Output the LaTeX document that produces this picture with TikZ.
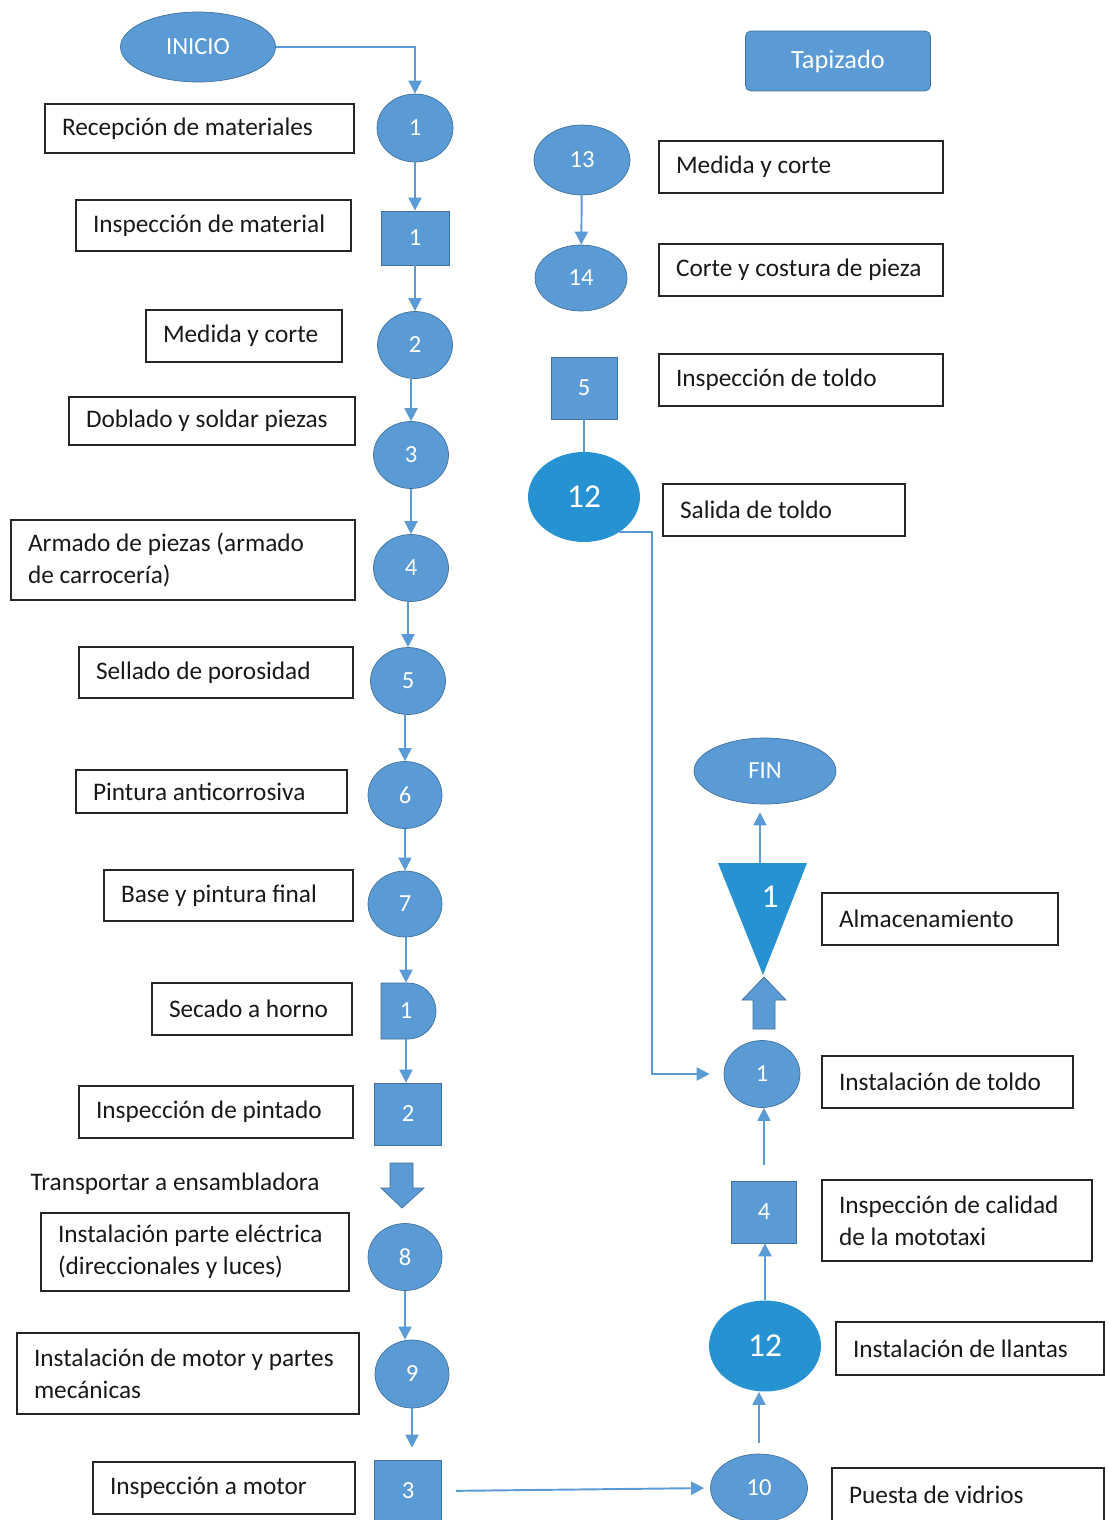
\documentclass[tikz,border=0pt]{standalone}
\usepackage{fontspec}
\setmainfont{Carlito}
\usetikzlibrary{positioning,shapes.geometric,arrows.meta}

\definecolor{opblue}{HTML}{5B9BD5}
\definecolor{opedge}{HTML}{41719C}
\definecolor{brightblue}{HTML}{2792D2}

\tikzset{
    op/.style={ellipse, fill=opblue, draw=opedge, line width=0.4pt, text=white,
        inner sep=0pt, font=\fontsize{14}{16}\selectfont},
    insp/.style={rectangle, fill=opblue, draw=opedge, line width=0.4pt, text=white,
        inner sep=0pt, font=\fontsize{14}{16}\selectfont},
    bigop/.style={ellipse, fill=brightblue, text=white, inner sep=0pt,
        minimum width=2.24cm, minimum height=1.8cm, font=\fontsize{19}{22}\selectfont},
    descbox/.style={draw=black!85, line width=0.9pt, align=flush left, inner xsep=0.34cm,
        inner ysep=0pt, text=black!90, font=\fontsize{14.4}{18}\selectfont},
    conn/.style={draw=opblue, line width=1.1pt, -{Triangle[length=0.26cm, width=0.26cm]}},
    link/.style={draw=opblue, line width=1.1pt},
}

\begin{document}
\begin{tikzpicture}[x=0.02cm, y=-0.02cm]
        \useasboundingbox (0,0) rectangle (1108,1520);

        % Left column: body of the mototaxi
        \node (inicio) [op, minimum width=3.1cm, minimum height=1.4cm] at (198,47) {INICIO};
        \node (c1) [op, minimum width=1.52cm, minimum height=1.36cm] at (415,128) {1};
        \node (s1) [insp, minimum width=1.36cm, minimum height=1.08cm] at (415,238) {1};
        \node (c2) [op, minimum width=1.5cm, minimum height=1.34cm] at (415,345) {2};
        \node (c3) [op, minimum width=1.5cm, minimum height=1.34cm] at (411,455) {3};
        \node (c4) [op, minimum width=1.5cm, minimum height=1.34cm] at (411,568) {4};
        \node (c5) [op, minimum width=1.5cm, minimum height=1.34cm] at (408,681) {5};
        \node (c6) [op, minimum width=1.48cm, minimum height=1.34cm] at (405,795) {6};
        \node (c7) [op, minimum width=1.48cm, minimum height=1.32cm] at (405,904) {7};
        \filldraw[fill=opblue, draw=opedge, line width=0.4pt]
            (381,983) -- (408,983) arc[start angle=90, end angle=-90, radius=0.56cm]
            -- (381,1039) -- cycle;
        \node (d1) [insp, draw=none, fill=none, minimum width=1.1cm, minimum height=1.12cm] at (406,1011) {1};
        \node (s2) [insp, minimum width=1.34cm, minimum height=1.24cm] at (408,1114) {2};
        \filldraw[fill=opblue, draw=opedge, line width=0.4pt]
            (390,1163) -- (413,1163) -- (413,1188) -- (424,1188) -- (402,1208)
            -- (381,1188) -- (390,1188) -- cycle;
        \node (c8) [op, minimum width=1.48cm, minimum height=1.34cm] at (405,1257) {8};
        \node (c9) [op, minimum width=1.48cm, minimum height=1.36cm] at (412,1374) {9};
        \node (s3) [insp, minimum width=1.34cm, minimum height=1.24cm] at (408,1491) {3};

        \node (r1) [descbox, text width=5.50cm, minimum height=0.98cm] at (199.5,128.5) {Recepción de materiales};
        \node (r2) [descbox, text width=4.82cm, minimum height=1.02cm] at (213.5,225.5) {Inspección de material};
        \node (r3) [descbox, text width=3.24cm, minimum height=1.04cm] at (244,336) {Medida y corte};
        \node (r4) [descbox, text width=5.04cm, minimum height=0.96cm] at (212,421) {Doblado y soldar piezas};
        \node (r5) [descbox, text width=6.20cm, minimum height=1.6cm] at (183,560) {Armado de piezas (armado\\de carrocería)};
        \node (r6) [descbox, text width=4.80cm, minimum height=1.02cm] at (216,672.5) {Sellado de porosidad};
        \node (r7) [descbox, text width=4.74cm, minimum height=0.86cm] at (211.5,791.5) {Pintura anticorrosiva};
        \node (r8) [descbox, text width=4.30cm, minimum height=1.02cm] at (228.5,895.5) {Base y pintura final};
        \node (r9) [descbox, text width=3.32cm, minimum height=1.04cm] at (252,1009) {Secado a horno};
        \node (r10) [descbox, text width=4.80cm, minimum height=1.04cm] at (216,1112) {Inspección de pintado};
        \node (trans) [font=\fontsize{14.4}{18}\selectfont, text=black!90] at (175,1184) {Transportar a ensambladora};
        \node (r11) [descbox, text width=5.48cm, minimum height=1.56cm] at (195,1252) {Instalación parte eléctrica\\(direccionales y luces)};
        \node (r12) [descbox, text width=6.16cm, minimum height=1.62cm] at (188,1373.5) {Instalación de motor y partes\\mecánicas};
        \node (r13) [descbox, text width=4.56cm, minimum height=1.04cm] at (224,1488) {Inspección a motor};

        % Right column: upholstery and assembly
        \node (tapiz) [insp, rounded corners=3pt, minimum width=3.7cm, minimum height=1.2cm,
            font=\fontsize{15}{18}\selectfont] at (838,61) {Tapizado};
        \node (c13) [op, minimum width=1.92cm, minimum height=1.4cm] at (582,160) {13};
        \node (c14) [op, minimum width=1.84cm, minimum height=1.32cm] at (581,278) {14};
        \node (s5) [insp, minimum width=1.32cm, minimum height=1.24cm] at (584,388) {5};
        \node (a12) [bigop] at (584,497) {12};

        \node (fin) [op, minimum width=2.84cm, minimum height=1.32cm] at (765,771) {FIN};
        \fill[brightblue] (718,863) -- (807,863) -- (763,975) -- cycle;
        \coordinate (sttop) at (760,863);
        \node (st1) [text=white, font=\fontsize{19}{22}\selectfont] at (770,897) {1};
        \filldraw[fill=opblue, draw=opedge, line width=0.4pt]
            (753,1029) -- (753,1000) -- (742,1000) -- (764,977) -- (786,1000)
            -- (775,1000) -- (775,1029) -- cycle;
        \node (c11) [op, minimum width=1.52cm, minimum height=1.34cm] at (762,1074) {1};
        \node (s4) [insp, minimum width=1.3cm, minimum height=1.24cm] at (764,1212) {4};
        \node (b12) [bigop, minimum height=1.82cm] at (765,1346) {12};
        \node (c10) [op, minimum width=1.94cm, minimum height=1.36cm] at (759,1488) {10};

        \node (t1) [descbox, text width=5.00cm, minimum height=1.04cm] at (801,167) {Medida y corte};
        \node (t2) [descbox, text width=5.00cm, minimum height=1.04cm] at (801,270) {Corte y costura de pieza};
        \node (t3) [descbox, text width=5.00cm, minimum height=1.04cm] at (801,380) {Inspección de toldo};
        \node (t4) [descbox, text width=4.16cm, minimum height=1.04cm] at (784,510) {Salida de toldo};
        \node (t5) [descbox, text width=4.04cm, minimum height=1.04cm] at (940,919) {Almacenamiento};
        \node (t6) [descbox, text width=4.34cm, minimum height=1.04cm] at (947.5,1082) {Instalación de toldo};
        \node (t7) [descbox, text width=4.72cm, minimum height=1.62cm] at (957,1220.5) {Inspección de calidad\\de la mototaxi};
        \node (t8) [descbox, text width=4.68cm, minimum height=1.06cm] at (970,1348.5) {Instalación de llantas};
        \node (t9) [descbox, text width=4.76cm, minimum height=1.08cm] at (968,1495) {Puesta de vidrios};

        % Connectors
        \draw[conn] (inicio.east) -| (c1.north);
        \draw[conn] (c1) -- (s1);
        \draw[conn] (s1) -- (c2);
        \draw[conn] (c3.north |- c2.south) -- (c3.north);
        \draw[conn] (c3) -- (c4);
        \draw[conn] (c5.north |- c4.south) -- (c5.north);
        \draw[conn] (c6.north |- c5.south) -- (c6.north);
        \draw[conn] (c6) -- (c7);
        \draw[conn] (c7.south -| d1.north) -- (d1.north);
        \draw[conn] (d1.south) -- (d1.south |- s2.north);
        \draw[conn] (c8.south) -- (c8.south |- c9.north);
        \draw[conn, shorten >=0.24cm] (c9.south) -- (c9.south |- s3.north);
        \draw[conn, shorten <=0.28cm, shorten >=0.12cm] (s3.east) -- (c10.west);
        \draw[conn, shorten <=0.22cm] (c10.north) -- (c10.north |- b12.south);
        \draw[conn] (b12.north) -- (b12.north |- s4.south);
        \draw[conn, shorten <=0.32cm] (s4.north) -- (s4.north |- c11.south);
        \draw[conn, shorten >=0.16cm] (sttop) -- (sttop |- fin.south);
        \draw[conn] (c13) -- (c14);
        \draw[link] (s5) -- (a12);
        \draw[conn, shorten >=0.28cm] (a12.-45) -| (652,800) |- (c11.west);
\end{tikzpicture}
\end{document}
